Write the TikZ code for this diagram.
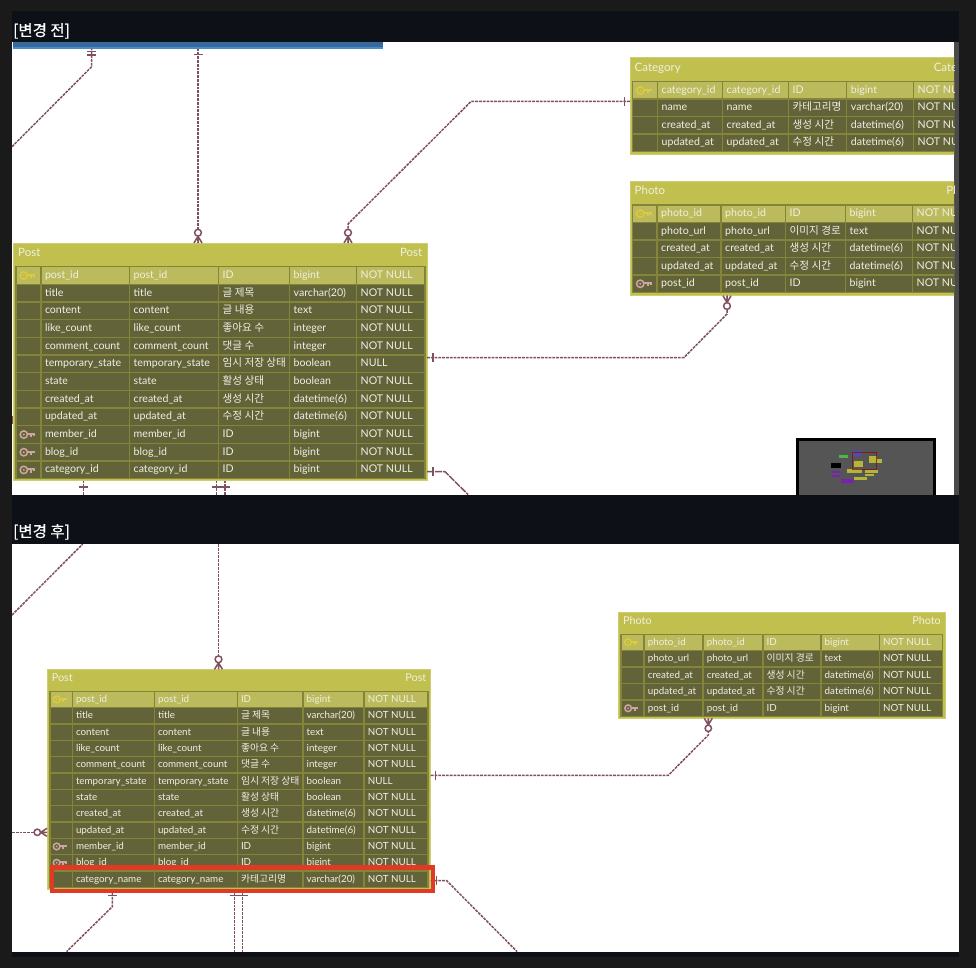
\documentclass[tikz,border=0pt]{standalone}
\usepackage{fontspec}
\setmainfont{Lato}
\newfontfamily\kr{Noto Sans CJK KR}
\newfontfamily\krh[FakeBold=0.5]{Noto Sans CJK KR}
\definecolor{pagebg}{HTML}{1A1A1A}
\definecolor{panelbg}{HTML}{0D1117}
\definecolor{scrollc}{HTML}{4A4A4A}
\definecolor{titlec}{HTML}{C1C04E}
\definecolor{gridc}{HTML}{85853A}
\definecolor{hdrc}{HTML}{BBBA5C}
\definecolor{rowc}{HTML}{63633A}
\definecolor{linkc}{HTML}{80505F}
\definecolor{goldc}{HTML}{DCCB3C}
\definecolor{pinkc}{HTML}{CDA6A0}
\definecolor{txtc}{HTML}{F0F0E2}
\definecolor{hlred}{HTML}{E03A24}
\definecolor{mapbg}{HTML}{555555}
\definecolor{mapyel}{HTML}{B5B53A}
\definecolor{mappur}{HTML}{7A22B0}
\definecolor{barblue}{HTML}{4A8CCB}
\definecolor{bardark}{HTML}{38699C}
\newcounter{cellc}
\tikzset{
  x=1pt,y=-1pt,
  tblbox/.style={fill=titlec,draw=titlec!80!white,line width=.8pt,inner sep=0pt,outer sep=0pt,rectangle,anchor=north west},
  celltext/.style={inner sep=0pt,anchor=base west,text=txtc,font=\cellfont},
  titletext/.style={inner sep=0pt,text=txtc,font=\titlefont},
  hdrtext/.style={inner sep=0pt,anchor=base west,text=white,font=\fontsize{15.5}{15.5}\krh},
  conn/.style={draw=linkc,line width=1.5pt,dash pattern=on 2.8pt off 1pt},
  connend/.style={draw=linkc,line width=1.5pt},
}
\newcommand\setcols[7]{\def\La{#1}\def\Lb{#2}\def\Lc{#3}\def\Ld{#4}\def\Le{#5}\def\Lf{#6}\def\Lg{#7}}
\newcommand\tcell[5]{%
  \fill[#4] (#1+.75,#3+.75) rectangle (#2-.75,#3+\rh-.75);
  \stepcounter{cellc}%
  \node[celltext] (cell\arabic{cellc}) at (#1+\pad,#3+\rh/2+2.9) {#5};}
\newcommand\tkey[3]{%
  \begin{scope}[shift={(#1,#2)},scale=\keyk]
    \draw[#3,line width=1.5pt] (0,0) circle[radius=3.7];
    \fill[#3] (0,0) circle[radius=1.1];
    \draw[#3,line width=1.9pt] (3.6,-.6) -- (10.4,-.6) -- (10.4,1) (7.4,-.6) -- (7.4,2.6);
  \end{scope}}
% #1 ytop, #2 fill, #3 key colour (or none), #4..#8 texts
\newcommand\trow[8]{%
  \tcell{\La}{\Lb}{#1}{#2}{}%
  \tcell{\Lb}{\Lc}{#1}{#2}{#4}%
  \tcell{\Lc}{\Ld}{#1}{#2}{#5}%
  \tcell{\Ld}{\Le}{#1}{#2}{#6}%
  \tcell{\Le}{\Lf}{#1}{#2}{#7}%
  \tcell{\Lf}{\Lg}{#1}{#2}{#8}%
  \ifx#3n\else\tkey{\La/2+\Lb/2-4.5}{#1+\rh/2}{#3}\fi}
\newcommand\tgrid[2]{\fill[gridc] (\La-.75,#1) rectangle (\Lg+.75,#2);}
% connector end marks
\newcommand\barh[2]{\draw[connend] (#1-4.5,#2) -- (#1+4.5,#2);}
\newcommand\barv[2]{\draw[connend] (#1,#2-4.5) -- (#1,#2+4.5);}
\newcommand\footdown[3]{% x, y of circle centre, y of table top (foot below circle)
  \draw[connend] (#1,#2+3.6) -- (#1,#3) (#1-4,#3) -- (#1,#2+3.6) -- (#1+4,#3);
  \draw[connend,fill=white] (#1,#2) circle[radius=3.4];}
\begin{document}
\begin{tikzpicture}
\useasboundingbox (0,0) rectangle (976,968);
\fill[pagebg] (0,0) rectangle (976,968);
\fill[panelbg] (12,11) rectangle (959,957);
\node[hdrtext] (headA) at (13,36) {[변경 전]};
\node[hdrtext] (headB) at (13,537) {[변경 후]};
\fill[white] (12,42) rectangle (954,494.5);
\fill[scrollc] (954,42) rectangle (959,494.5);
\fill[white] (12,544) rectangle (958.5,951.5);

%%%%%%%%%% TOP PANEL
\begin{scope}
\clip (12,42) rectangle (954,494.5);
\node[fill=barblue,inner sep=0pt,outer sep=0pt,minimum width=370pt,minimum height=6.7pt,anchor=north west,rectangle] (blue) at (13,42) {};
\fill[bardark] (13,42) rectangle (383,47);
\def\cellfont{\fontsize{10.6}{12}\selectfont}
\def\titlefont{\fontsize{11.5}{13}\selectfont}
\def\keyk{1}
% table boxes
\node[tblbox,minimum width=413.5pt,minimum height=237.5pt] (postA) at (13.5,243) {};
\node[tblbox,minimum width=354pt,minimum height=97pt] (catA) at (630,57.7) {};
\node[tblbox,minimum width=351pt,minimum height=114.4pt] (photoA) at (630,181.3) {};
% connectors
\coordinate (a1) at (12,146.7);
\coordinate (a1b) at (91.7,66.7);
\draw[conn] (a1) -- (a1b) -- (a1b |- blue.south);
\barh{91.7}{51.7}\barh{91.7}{55}
\coordinate (a2) at (198,0);
\draw[conn] (a2 |- blue.south) -- (a2 |- postA.north);
\barh{198}{54.5}
\footdown{198}{232.7}{243}
\coordinate (a3b) at (471,101.5);
\coordinate (a3c) at (348,224);
\draw[conn] (catA.west |- a3b) -- (a3b) -- (a3c) -- (a3c |- postA.north);
\barv{624.3}{101.5}
\footdown{348}{232.7}{243}
\coordinate (a4b) at (684,357.5);
\coordinate (a4c) at (727,314);
\draw[conn] (postA.east |- a4b) -- (a4b) -- (a4c) -- (a4c |- photoA.south);
\barv{433}{357.5}
\draw[connend] (727,302.6) -- (727,295.7) (723,295.7) -- (727,302.6) -- (731,295.7);
\draw[connend,fill=white] (727,306) circle[radius=3.4];
\coordinate (a5b) at (445,471.7);
\coordinate (a5c) at (468,494.5);
\draw[conn,dash pattern=on 7pt off 1pt] (postA.east |- a5b) -- (a5b) -- (a5c);
\barv{433}{471.7}
\coordinate (a6) at (83.7,494.5);
\draw[conn] (a6 |- postA.south) -- (a6);
\barh{83.7}{487}
\coordinate (a7) at (216.7,494.5);
\coordinate (a8) at (225,494.5);
\draw[conn] (a7 |- postA.south) -- (a7);
\draw[conn] (a8 |- postA.south) -- (a8);
\draw[connend] (211.5,487) -- (229.5,487);
\draw[connend] (12.6,416) -- (12.6,423.5);
% Post table
\node[titletext,anchor=base west] (postAt) at (18,256.3) {Post};
\node[titletext,anchor=base east] (postAr) at (422.5,256.3) {Post};
\def\rh{17.67}\def\pad{4}
\setcols{15.8}{40.8}{129.5}{218.5}{289.5}{356.5}{425}
\tgrid{266.2}{479.2}
\trow{266.7}{hdrc}{goldc}{post\_id}{post\_id}{ID}{bigint}{NOT NULL}
\trow{284.37}{rowc}{n}{title}{title}{\kr 글 제목}{varchar(20)}{NOT NULL}
\trow{302.04}{rowc}{n}{content}{content}{\kr 글 내용}{text}{NOT NULL}
\trow{319.71}{rowc}{n}{like\_count}{like\_count}{\kr 좋아요 수}{integer}{NOT NULL}
\trow{337.38}{rowc}{n}{comment\_count}{comment\_count}{\kr 댓글 수}{integer}{NOT NULL}
\trow{355.05}{rowc}{n}{temporary\_state}{temporary\_state}{\kr 임시 저장 상태}{boolean}{NULL}
\trow{372.72}{rowc}{n}{state}{state}{\kr 활성 상태}{boolean}{NOT NULL}
\trow{390.39}{rowc}{n}{created\_at}{created\_at}{\kr 생성 시간}{datetime(6)}{NOT NULL}
\trow{408.06}{rowc}{n}{updated\_at}{updated\_at}{\kr 수정 시간}{datetime(6)}{NOT NULL}
\trow{425.73}{rowc}{pinkc}{member\_id}{member\_id}{ID}{bigint}{NOT NULL}
\trow{443.4}{rowc}{pinkc}{blog\_id}{blog\_id}{ID}{bigint}{NOT NULL}
\trow{461.07}{rowc}{pinkc}{category\_id}{category\_id}{ID}{bigint}{NOT NULL}
% Category table
\node[titletext,anchor=base west] (catAt) at (634.5,71.3) {Category};
\node[titletext,anchor=base east] (catAr) at (980,71.3) {Category};
\def\rh{17.5}
\setcols{632.5}{657.5}{722.5}{788.5}{846.7}{913.5}{982}
\tgrid{81.2}{152.2}
\trow{81.7}{hdrc}{goldc}{category\_id}{category\_id}{ID}{bigint}{NOT NULL}
\trow{99.2}{rowc}{n}{name}{name}{\kr 카테고리명}{varchar(20)}{NOT NULL}
\trow{116.7}{rowc}{n}{created\_at}{created\_at}{\kr 생성 시간}{datetime(6)}{NOT NULL}
\trow{134.2}{rowc}{n}{updated\_at}{updated\_at}{\kr 수정 시간}{datetime(6)}{NOT NULL}
% Photo table
\node[titletext,anchor=base west] (photoAt) at (634.5,194.7) {Photo};
\node[titletext,anchor=base east] (photoAr) at (977,194.7) {Photo};
\setcols{632.5}{657}{721}{785.5}{845.5}{912.5}{979}
\tgrid{204.5}{293.2}
\trow{205}{hdrc}{goldc}{photo\_id}{photo\_id}{ID}{bigint}{NOT NULL}
\trow{222.5}{rowc}{n}{photo\_url}{photo\_url}{\kr 이미지 경로}{text}{NOT NULL}
\trow{240}{rowc}{n}{created\_at}{created\_at}{\kr 생성 시간}{datetime(6)}{NOT NULL}
\trow{257.5}{rowc}{n}{updated\_at}{updated\_at}{\kr 수정 시간}{datetime(6)}{NOT NULL}
\trow{275}{rowc}{pinkc}{post\_id}{post\_id}{ID}{bigint}{NOT NULL}
% minimap
\filldraw[fill=mapbg,draw=black,line width=3pt] (797.5,439.5) rectangle (934.5,500);
\fill[green!45!gray] (839,454.7) rectangle (848.3,458);
\fill[black] (830.7,462.7) rectangle (841.3,468);
\fill[mappur] (831.3,471) rectangle (840,473.3);
\fill[mappur] (832,475) rectangle (840,477.3);
\fill[mappur] (841.3,478.7) rectangle (854.3,483.3);
\fill[mapyel] (854,460.7) rectangle (863.3,467.3);
\fill[mapyel] (869.3,456) rectangle (877.3,462.7);
\fill[mapyel] (877.3,459.3) rectangle (882.3,462.7);
\fill[mapyel] (846.7,469.3) rectangle (861.7,473.3);
\fill[mapyel] (865,470) rectangle (877.7,472.7);
\fill[mapyel] (865,473.7) rectangle (874,476);
\fill[mapyel] (854,476.7) rectangle (866.7,480.3);
\fill[blue!40!gray] (853.3,451) rectangle (862.3,455.7);
\draw[red!60!black,line width=.8pt,opacity=.7] (852.7,452.7) rectangle (876.7,469.3);
\end{scope}

%%%%%%%%%% BOTTOM PANEL
\begin{scope}
\clip (12,544) rectangle (958.5,951.5);
\def\cellfont{\fontsize{9.8}{12}\selectfont}
\def\titlefont{\fontsize{10.8}{13}\selectfont}
\def\keyk{.9}
\node[tblbox,minimum width=383.7pt,minimum height=220pt] (postB) at (47,669.3) {};
\node[tblbox,minimum width=327pt,minimum height=106pt] (photoB) at (618.3,612.3) {};
\coordinate (b1) at (12,615);
\coordinate (b1b) at (82.7,544);
\draw[conn] (b1) -- (b1b);
\coordinate (b2) at (218.5,544);
\draw[conn] (b2) -- (b2 |- postB.north);
\footdown{218.5}{659.3}{669.3}
\coordinate (b3) at (12,832.3);
\draw[conn] (b3) -- (b3 -| postB.west);
\draw[connend] (40.6,832.3) -- (47,832.3) (47,828.3) -- (40.6,832.3) -- (47,836.3);
\draw[connend,fill=white] (37.3,832.3) circle[radius=3.2];
\coordinate (b4b) at (668.3,775.3);
\coordinate (b4c) at (708.3,735);
\draw[conn] (postB.east |- b4b) -- (b4b) -- (b4c) -- (b4c |- photoB.south);
\barv{435.7}{775.3}
\draw[connend] (708.3,725) -- (708.3,718.3) (704.3,718.3) -- (708.3,725) -- (712.3,718.3);
\draw[connend,fill=white] (708.3,728.3) circle[radius=3.2];
\coordinate (b5b) at (446.7,880.7);
\coordinate (b5c) at (517,951.5);
\draw[conn] (postB.east |- b5b) -- (b5b) -- (b5c);
\barv{436.7}{880.7}
\coordinate (b6b) at (112.3,906.7);
\coordinate (b6c) at (66.7,951.5);
\draw[conn] (b6b |- postB.south) -- (b6b) -- (b6c);
\barh{112.3}{895.5}
\coordinate (b7) at (234.3,951.5);
\coordinate (b8) at (242.7,951.5);
\draw[conn] (b7 |- postB.south) -- (b7);
\draw[conn] (b8 |- postB.south) -- (b8);
\draw[connend] (229.5,895.5) -- (247.5,895.5);
\node[titletext,anchor=base west] (postBt) at (51.7,681.5) {Post};
\node[titletext,anchor=base east] (postBr) at (426.5,681.5) {Post};
\def\rh{16.33}\def\pad{3.5}
\setcols{50}{72.3}{154.3}{237.3}{303}{364.2}{428}
\tgrid{690.8}{887.8}
\trow{691.3}{hdrc}{goldc}{post\_id}{post\_id}{ID}{bigint}{NOT NULL}
\trow{707.63}{rowc}{n}{title}{title}{\kr 글 제목}{varchar(20)}{NOT NULL}
\trow{723.96}{rowc}{n}{content}{content}{\kr 글 내용}{text}{NOT NULL}
\trow{740.29}{rowc}{n}{like\_count}{like\_count}{\kr 좋아요 수}{integer}{NOT NULL}
\trow{756.62}{rowc}{n}{comment\_count}{comment\_count}{\kr 댓글 수}{integer}{NOT NULL}
\trow{772.95}{rowc}{n}{temporary\_state}{temporary\_state}{\kr 임시 저장 상태}{boolean}{NULL}
\trow{789.28}{rowc}{n}{state}{state}{\kr 활성 상태}{boolean}{NOT NULL}
\trow{805.61}{rowc}{n}{created\_at}{created\_at}{\kr 생성 시간}{datetime(6)}{NOT NULL}
\trow{821.94}{rowc}{n}{updated\_at}{updated\_at}{\kr 수정 시간}{datetime(6)}{NOT NULL}
\trow{838.27}{rowc}{pinkc}{member\_id}{member\_id}{ID}{bigint}{NOT NULL}
\trow{854.6}{rowc}{pinkc}{blog\_id}{blog\_id}{ID}{bigint}{NOT NULL}
\trow{870.93}{rowc}{n}{category\_name}{category\_name}{\kr 카테고리명}{varchar(20)}{NOT NULL}
% highlight
\node[draw=hlred,line width=4.5pt,fill=none,rectangle,inner sep=0pt,minimum width=381pt,minimum height=23.8pt,anchor=north west] (mark) at (49.7,865) {};
% Photo
\node[titletext,anchor=base west] (photoBt) at (623,624.5) {Photo};
\node[titletext,anchor=base east] (photoBr) at (941,624.5) {Photo};
\def\rh{16.5}
\setcols{621}{644.2}{703.2}{762.8}{821}{879.3}{942.5}
\tgrid{633.5}{717}
\trow{634}{hdrc}{goldc}{photo\_id}{photo\_id}{ID}{bigint}{NOT NULL}
\trow{650.5}{rowc}{n}{photo\_url}{photo\_url}{\kr 이미지 경로}{text}{NOT NULL}
\trow{667}{rowc}{n}{created\_at}{created\_at}{\kr 생성 시간}{datetime(6)}{NOT NULL}
\trow{683.5}{rowc}{n}{updated\_at}{updated\_at}{\kr 수정 시간}{datetime(6)}{NOT NULL}
\trow{700}{rowc}{pinkc}{post\_id}{post\_id}{ID}{bigint}{NOT NULL}
\end{scope}
\end{tikzpicture}
\end{document}
